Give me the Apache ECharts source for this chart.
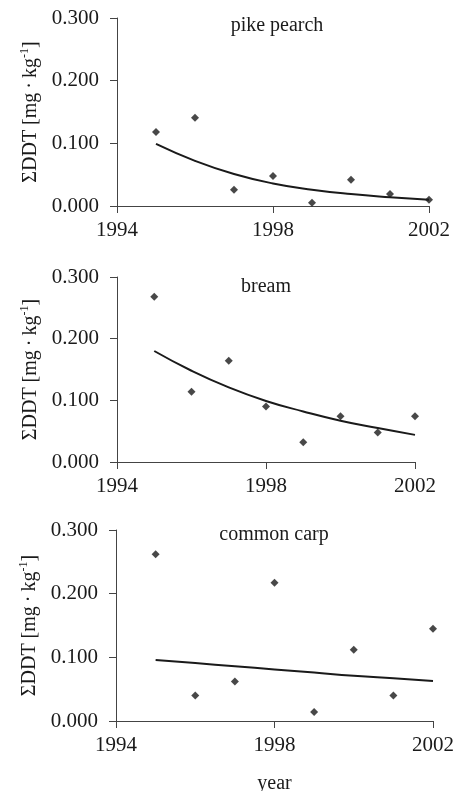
<!DOCTYPE html>
<html>
<head>
<meta charset="utf-8">
<script src="https://cdn.jsdelivr.net/npm/echarts@6/dist/echarts.min.js"></script>
<style>
  html, body { margin: 0; padding: 0; background: #fff; }
  #chart-container { width: 456px; height: 791px; }
</style>
</head>
<body>
<div id="chart-container"></div>
<script>
const years = [1995, 1996, 1997, 1998, 1999, 2000, 2001, 2002];
const panelNames = ['pike pearch', 'bream', 'common carp'];

// measured points
const pikePearch = [0.118, 0.141, 0.026, 0.048, 0.005, 0.042, 0.019, 0.010];
const bream = [0.268, 0.114, 0.164, 0.090, 0.032, 0.074, 0.048, 0.074];
const commonCarp = [0.262, 0.040, 0.062, 0.217, 0.014, 0.112, 0.040, 0.145];

// trend lines
const pikeTrend = [0.099, 0.072, 0.051, 0.036, 0.026, 0.019, 0.014, 0.010];
const breamTrend = [0.180, 0.148, 0.121, 0.099, 0.082, 0.067, 0.055, 0.044];
const carpTrend = [0.096, 0.091, 0.086, 0.081, 0.076, 0.071, 0.067, 0.063];

const yTicks = [0, 0.1, 0.2, 0.3];

const FONT = '"Liberation Serif", "Times New Roman", serif';
const INK = '#1a1a1a';

const grids = [
  { left: 117, right: 27, top: 18, height: 188, outerBoundsMode: 'none' },
  { left: 117, right: 41, top: 277, height: 185, outerBoundsMode: 'none' },
  { left: 116, right: 23, top: 530, height: 191, outerBoundsMode: 'none' },
];
const titleTops = [11, 272, 520];

const pair = (ys) => years.map((y, i) => [y, ys[i]]);

const initChart = () => {
  const dom = document.getElementById('chart-container');
  return echarts.init(dom, null, { renderer: 'canvas' });
};

const renderChart = (chart) => {
  const points = [pikePearch, bream, commonCarp];
  const trends = [pikeTrend, breamTrend, carpTrend];

  const axisLine = { lineStyle: { color: '#444', width: 1 } };

  const xAxis = grids.map((g, i) => ({
    type: 'value',
    gridIndex: i,
    min: 1994,
    max: 2002,
    interval: 4,
    axisLine: axisLine,
    axisTick: { show: true, inside: false, length: 7, lineStyle: { color: '#444' } },
    axisLabel: {
      color: INK,
      fontFamily: FONT,
      fontSize: 21,
      margin: 14,
      formatter: (v) => String(v),
    },
    splitLine: { show: false },
    name: i === 2 ? 'year' : '',
    nameLocation: 'middle',
    nameGap: 53,
    nameTextStyle: { color: INK, fontFamily: FONT, fontSize: 20 },
  }));

  const yAxis = grids.map((g, i) => ({
    type: 'value',
    gridIndex: i,
    min: yTicks[0],
    max: yTicks[yTicks.length - 1],
    interval: 0.1,
    axisLine: { show: true, lineStyle: { color: '#444', width: 1 } },
    axisTick: { show: true, inside: false, length: 7, lineStyle: { color: '#444' } },
    axisLabel: {
      color: INK,
      fontFamily: FONT,
      fontSize: 21,
      margin: 18,
      formatter: (v) => v.toFixed(3),
    },
    splitLine: { show: false },
    name: '{a|ΣDDT [mg\u2009·\u2009kg}{s|-1}{a|]}',
    nameLocation: 'middle',
    nameRotate: 90,
    nameGap: 74,
    nameTextStyle: {
      rich: {
        a: { color: INK, fontFamily: FONT, fontSize: 20, lineHeight: 24 },
        s: { color: INK, fontFamily: FONT, fontSize: 12, verticalAlign: 'top', lineHeight: 24 },
      },
    },
  }));

  const series = [];
  points.forEach((p, i) => {
    series.push({
      type: 'line',
      xAxisIndex: i,
      yAxisIndex: i,
      data: pair(trends[i]),
      smooth: true,
      showSymbol: false,
      lineStyle: { color: INK, width: 2 },
      silent: true,
    });
    series.push({
      type: 'scatter',
      xAxisIndex: i,
      yAxisIndex: i,
      data: pair(p),
      symbol: 'diamond',
      symbolSize: 8,
      itemStyle: { color: INK },
    });
  });

  chart.setOption({
    animation: false,
    title: panelNames.map((n, i) => ({
      text: n,
      left: [272, 261, 269][i],
      top: titleTops[i],
      textAlign: 'center',
      textStyle: { color: INK, fontFamily: FONT, fontSize: 20, fontWeight: 'normal' },
    })),
    grid: grids,
    xAxis: xAxis,
    yAxis: yAxis,
    series: series,
  });
};

const chart = initChart();
renderChart(chart);
</script>
</body>
</html>
